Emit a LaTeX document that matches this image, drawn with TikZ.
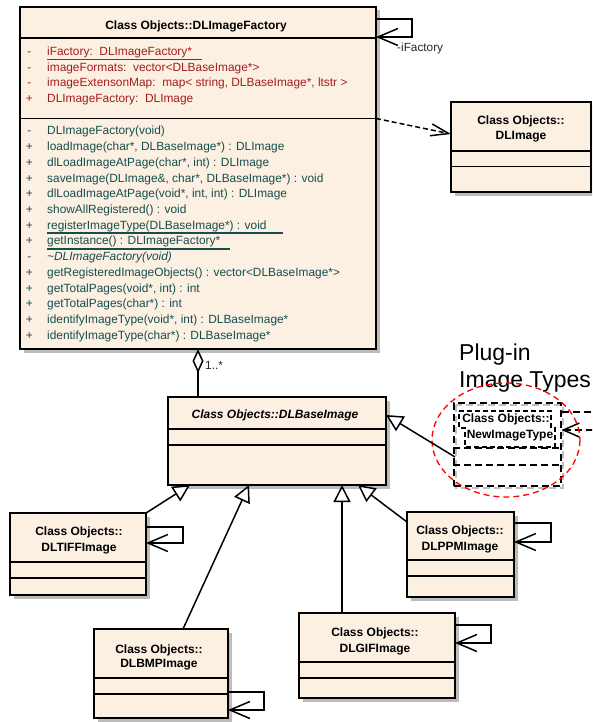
\documentclass[tikz,border=0pt]{standalone}
\usepackage{fontspec}
\setmainfont{Liberation Sans}
\usetikzlibrary{arrows.meta,shadows,calc}
\definecolor{boxfill}{RGB}{251,240,226}
\definecolor{attrc}{RGB}{165,30,30}
\definecolor{methc}{RGB}{22,78,78}
\definecolor{shadowc}{RGB}{188,188,188}
\begin{document}
\begin{tikzpicture}[x=1pt,y=-1pt,line join=miter,
  umlbox/.style={draw=black,line width=1.5pt,fill=boxfill,inner sep=0pt,outer sep=0pt,anchor=north west,
    drop shadow={shadow xshift=3.5pt,shadow yshift=-3.5pt,fill=shadowc,opacity=1}},
  sepline/.style={line width=1.5pt},
  ttl/.style={font=\bfseries\fontsize{12}{14}\selectfont,inner sep=0pt,anchor=base},
  mem/.style={anchor=base west,inner sep=0pt,font=\fontsize{11.9}{14}\selectfont},
  vis/.style={anchor=base,inner sep=0pt,font=\fontsize{11.9}{14}\selectfont},
  lbl/.style={anchor=base west,inner sep=0pt,font=\fontsize{11.8}{14}\selectfont,text=black!85},
  inherit/.style={line width=1.5pt,-{Triangle[length=17pt,width=17pt,fill=white,line width=1.5pt]}},
  selfloop/.style={line width=1.5pt,-{Straight Barb[length=20pt,width=17pt,line width=1.5pt]}},
  dep/.style={line width=1.5pt,dash pattern=on 5pt off 3pt,-{Straight Barb[length=18pt,width=12pt,line width=1.5pt]}},
  dashbox/.style={line width=1.5pt,dash pattern=on 7pt off 4pt}
]
\clip (0,0) rectangle (592,722);
\fill[white] (0,0) rectangle (592,722);

% ---------- DLImageFactory ----------
\node[umlbox,minimum width=356pt,minimum height=342pt] (factory) at (20,7) {};
\draw[sepline] (20,38) -- (376,38);
\draw[sepline] (20,118.5) -- (376,118.5);
\node[ttl] (factoryT) at (196,29.5) {Class Objects::DLImageFactory};

\begin{scope}[every node/.append style={text=attrc}]
\node[vis] (av1) at (29.3,56) {-};
\node[mem] (a1) at (47,56) {iFactory:\ \ DLImageFactory*};
\node[vis] (av2) at (29.3,71.5) {-};
\node[mem] (a2) at (47,71.5) {imageFormats:\ \ vector<DLBaseImage*>};
\node[vis] (av3) at (29.3,87) {-};
\node[mem] (a3) at (47,87) {imageExtensonMap:\ \ map< string, DLBaseImage*, ltstr >};
\node[vis] (av4) at (29.3,102.5) {+};
\node[mem] (a4) at (47,102.5) {DLImageFactory:\ \ DLImage};
\end{scope}
\draw[attrc,line width=1.4pt] ($(a1.base west)+(0,3.5)$) -- ++(155,0);

\begin{scope}[every node/.append style={text=methc}]
\node[vis] (mv1) at (29.3,135) {-};
\node[mem] (m1) at (47,135) {DLImageFactory(void)};
\node[vis] (mv2) at (29.3,150.7) {+};
\node[mem] (m2) at (47,150.7) {loadImage(char*, DLBaseImage*) : DLImage};
\node[vis] (mv3) at (29.3,166.4) {+};
\node[mem] (m3) at (47,166.4) {dlLoadImageAtPage(char*, int) : DLImage};
\node[vis] (mv4) at (29.3,182.1) {+};
\node[mem] (m4) at (47,182.1) {saveImage(DLImage\&, char*, DLBaseImage*) : void};
\node[vis] (mv5) at (29.3,197.8) {+};
\node[mem] (m5) at (47,197.8) {dlLoadImageAtPage(void*, int, int) : DLImage};
\node[vis] (mv6) at (29.3,213.5) {+};
\node[mem] (m6) at (47,213.5) {showAllRegistered() : void};
\node[vis] (mv7) at (29.3,229.2) {+};
\node[mem] (m7) at (47,229.2) {registerImageType(DLBaseImage*) : void};
\node[vis] (mv8) at (29.3,244.9) {+};
\node[mem] (m8) at (47,244.9) {getInstance() : DLImageFactory*};
\node[vis] (mv9) at (29.3,260.6) {-};
\node[mem] (m9) at (47,260.6) {\itshape \textasciitilde DLImageFactory(void)};
\node[vis] (mv10) at (29.3,276.3) {+};
\node[mem] (m10) at (47,276.3) {getRegisteredImageObjects() : vector<DLBaseImage*>};
\node[vis] (mv11) at (29.3,292) {+};
\node[mem] (m11) at (47,292) {getTotalPages(void*, int) : int};
\node[vis] (mv12) at (29.3,307.7) {+};
\node[mem] (m12) at (47,307.7) {getTotalPages(char*) : int};
\node[vis] (mv13) at (29.3,323.4) {+};
\node[mem] (m13) at (47,323.4) {identifyImageType(void*, int) : DLBaseImage*};
\node[vis] (mv14) at (29.3,339.1) {+};
\node[mem] (m14) at (47,339.1) {identifyImageType(char*) : DLBaseImage*};
\end{scope}
\draw[methc,line width=1.4pt] ($(m7.base west)+(0,3.7)$) -- ++(236,0);
\draw[methc,line width=1.4pt] ($(m8.base west)+(0,4)$) -- ++(183,0);

% self association
\draw[selfloop] ($(factory.north east)+(0,12)$) -- ++(36,0) -- ++(0,18) -- ++(-36,0);
\node[lbl] (ifac) at (397,51.7) {-iFactory};

% ---------- DLImage ----------
\node[umlbox,minimum width=140pt,minimum height=90pt] (dlimage) at (451,102) {};
\draw[sepline] (451,151) -- (591,151);
\draw[sepline] (451,166.5) -- (591,166.5);
\node[ttl] (dlimageT1) at (521,124.5) {Class Objects::};
\node[ttl] (dlimageT2) at (521,140) {DLImage};
\draw[dep] ($(factory.north east)+(0,111.5)$) -- ($(dlimage.north west)+(0,32)$);

% ---------- DLBaseImage ----------
\node[umlbox,minimum width=218pt,minimum height=88pt] (base) at (168,397) {};
\draw[sepline] (168,429) -- (386,429);
\draw[sepline] (168,445) -- (386,445);
\node[ttl,font=\bfseries\itshape\fontsize{12}{14}\selectfont] (baseT) at (275,418) {Class Objects::DLBaseImage};

% aggregation
\draw[line width=1.5pt,{Diamond[length=24pt,width=11pt,fill=white,line width=1.5pt]}-] ($(factory.south west)+(178,0)$) -- ($(base.north west)+(30,0)$);
\node[lbl] (mult) at (205,369) {1..*};

% ---------- DLTIFFImage ----------
\node[umlbox,minimum width=136pt,minimum height=82pt] (tiff) at (10,513) {};
\draw[sepline] (10,562) -- (146,562);
\draw[sepline] (10,578) -- (146,578);
\node[ttl] (tiffT1) at (79,535) {Class Objects::};
\node[ttl] (tiffT2) at (79,551) {DLTIFFImage};
\draw[selfloop] ($(tiff.north east)+(0,14)$) -- ++(37,0) -- ++(0,16) -- ++(-37,0);

% ---------- DLPPMImage ----------
\node[umlbox,minimum width=107pt,minimum height=85pt] (ppm) at (407,512) {};
\draw[sepline] (407,560) -- (514,560);
\draw[sepline] (407,576) -- (514,576);
\node[ttl] (ppmT1) at (460,534) {Class Objects::};
\node[ttl] (ppmT2) at (460,550) {DLPPMImage};
\draw[selfloop] ($(ppm.north east)+(0,11)$) -- ++(37,0) -- ++(0,19) -- ++(-37,0);

% ---------- DLGIFImage ----------
\node[umlbox,minimum width=156pt,minimum height=85pt] (gif) at (299,613) {};
\draw[sepline] (299,662) -- (455,662);
\draw[sepline] (299,678) -- (455,678);
\node[ttl] (gifT1) at (375,636) {Class Objects::};
\node[ttl] (gifT2) at (375,652) {DLGIFImage};
\draw[selfloop] ($(gif.north east)+(0,12)$) -- ++(36,0) -- ++(0,18) -- ++(-36,0);

% ---------- DLBMPImage ----------
\node[umlbox,minimum width=134pt,minimum height=89pt] (bmp) at (94,629) {};
\draw[sepline] (94,678) -- (228,678);
\draw[sepline] (94,694) -- (228,694);
\node[ttl] (bmpT1) at (159,653) {Class Objects::};
\node[ttl] (bmpT2) at (159,667) {DLBMPImage};
\draw[selfloop] ($(bmp.north east)+(0,63)$) -- ++(36,0) -- ++(0,18) -- ++(-36,0);

% ---------- Plug-in area ----------
\node[anchor=base west,inner sep=0pt,font=\fontsize{23}{27}\selectfont] (plug1) at (459,360) {Plug-in};
\node[anchor=base west,inner sep=0pt,font=\fontsize{23}{27}\selectfont] (plug2) at (459,387) {Image Types};

\draw[dashbox,draw=black!25] (456,405) rectangle (563,488);
\node[draw=black,dashbox,inner sep=0pt,anchor=north west,minimum width=107pt,minimum height=83pt] (newbox) at (453,402) {};
\draw[dashbox] (453,448) -- (560,448);
\draw[dashbox] (453,465) -- (560,465);
\draw[line width=1.5pt,dash pattern=on 5pt off 3pt] (459,411) -- (551,411) -- (551,428) -- (555,428) -- (555,447) -- (465,447) -- (465,428) -- (459,428) -- cycle;
\node[ttl] (newT1) at (506,422.7) {Class Objects::};
\node[ttl] (newT2) at (510,438.3) {NewImageType};
\draw[line width=1.5pt,dash pattern=on 7pt off 4pt,-{Straight Barb[length=16pt,width=14pt,line width=1.5pt]}] ($(newbox.north east)+(0,10)$) -- ++(45,0) -- ++(0,18) -- ++(-45,0);

\draw[red,line width=1.3pt,dash pattern=on 6pt off 4pt] (506,440) ellipse [x radius=74,y radius=57];

% ---------- generalizations ----------
\draw[inherit] (tiff.north east) -- ($(base.south west)+(22,0)$);
\draw[inherit] ($(bmp.north west)+(89,0)$) -- ($(base.south west)+(81,0)$);
\draw[inherit] ($(gif.north west)+(43,0)$) -- ($(base.south west)+(174,0)$);
\draw[inherit] ($(ppm.north west)+(0,10)$) -- ($(base.south west)+(190,0)$);
\draw[inherit] ($(newbox.north west)+(2,55)$) -- ($(base.north east)+(0,18)$);
\end{tikzpicture}
\end{document}
